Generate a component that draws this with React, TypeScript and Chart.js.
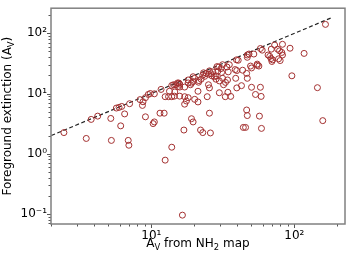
import React, { useEffect, useRef } from 'react';
import { Chart, registerables } from 'chart.js';

Chart.register(...registerables);

// A_V from NH2 map (x) and foreground extinction (y)
const nh2Av: number[] = [
  2.45, 3.51, 3.80, 4.22, 5.21, 5.26, 5.70, 5.95, 6.21, 6.11, 6.51, 6.90, 6.97, 7.05, 8.34, 8.67, 8.75, 9.10, 9.10, 9.53,
  9.84, 10.5, 10.3, 10.5, 11.5, 12.3, 11.7, 12.5, 13.9, 12.5, 13.2, 13.9, 13.4, 14.6, 13.9, 14.3, 14.8, 15.3, 15.6, 15.8,
  15.4, 15.8, 14.5, 15.8, 17.1, 18.1, 17.6, 17.1, 16.9, 16.5, 17.1, 18.1, 18.1, 18.8, 19.1, 19.6, 20.1, 19.6, 21.2, 20.1,
  21.2, 19.1, 19.6, 21.5, 22.3, 21.4, 22.9, 23.2, 24.2, 23.6, 25.1, 25.5, 26.2, 26.9, 25.1, 25.5, 24.6, 25.5, 22.1, 22.9,
  25.9,
  26.5, 27.6, 28.3, 28.8, 29.6, 30.7, 31.5, 29.2, 31.0, 28.3, 29.9, 31.5, 32.0, 33.0, 34.1, 34.5, 35.1, 33.8, 29.9, 32.9,
  35.9, 34.3, 39.4, 40.5, 38.6, 39.6, 43.5, 46.4, 46.9, 38.9, 42.7, 39.6, 46.9, 48.2, 46.9, 52.1, 49.4, 50.2, 55.0, 56.5,
  55.0, 57.9, 59.6, 50.2, 57.9, 53.5, 58.6, 46.4, 46.9, 57.0, 44.0, 45.6, 58.9, 65.5, 67.3, 68.7, 70.5, 69.7, 69.0, 72.8,
  76.4, 78.8, 81.7, 82.6, 77.6, 79.6, 82.6, 93.3, 117, 165, 96.1, 145, 158,
];
const foregroundAv: number[] = [
  2.24, 1.79, 3.71, 4.21, 3.85, 1.66, 5.73, 5.88, 6.10, 2.90, 4.58, 1.66, 1.38, 6.77, 7.91, 6.34, 7.29, 4.10, 8.53, 9.64,
  10.0, 9.89, 3.16, 3.37, 4.71, 4.71, 11.7, 0.780, 1.28, 8.85, 8.85, 8.85, 10.9, 10.6, 13.6, 14.0, 14.0, 15.0, 14.9, 14.3,
  13.1, 12.8, 9.04, 9.04, 8.85, 8.53, 7.51, 6.65, 2.47, 0.095, 12.8, 16.8, 15.0, 14.0, 14.9, 19.0, 17.9, 15.8, 10.9, 8.0,
  7.24, 3.81, 3.37, 16.4, 17.3, 15.4, 20.2, 22.1, 21.6, 19.3, 21.0, 23.8, 21.3, 22.9, 14.0, 12.4, 8.85, 4.71, 2.47, 2.24,
  2.21,
  19.7, 19.0, 19.7, 28.0, 27.6, 26.0, 30.1, 23.5, 22.4, 17.3, 16.2, 17.9, 14.0, 15.3, 16.8, 22.9, 30.1, 27.6, 10.3, 8.85,
  8.95, 10.5, 36.3, 35.7, 25.0, 24.1, 24.4, 21.6, 17.9, 17.9, 13.5, 12.4, 43.7, 45.3, 40.0, 45.3, 28.6, 26.6, 29.4, 28.6,
  30.8, 56.0, 52.6, 12.7, 12.7, 9.64, 8.95, 5.32, 4.30, 4.21, 2.73, 2.73, 2.63, 43.7, 41.5, 38.1, 36.3, 34.1, 54.6, 64.0,
  54.6, 51.3, 48.1, 43.7, 37.7, 35.3, 65.8, 56.6, 46.4, 141, 19.7, 12.5, 3.54,
];

// one-to-one reference line
const oneToOne: number[] = [2, 180];

// axis ticks
const xTickValues: number[] = [2, 3, 4, 5, 6, 7, 8, 9, 10, 20, 30, 40, 50, 60, 70, 80, 90, 100, 200];
const yTickValues: number[] = [0.07, 0.08, 0.09, 0.1, 0.2, 0.3, 0.4, 0.5, 0.6, 0.7, 0.8, 0.9, 1, 2, 3, 4, 5, 6, 7, 8, 9,
  10, 20, 30, 40, 50, 60, 70, 80, 90, 100, 200];
const majorTicks: number[] = [0.1, 1, 10, 100];
const majorLabels: string[] = ['10⁻¹', '10⁰', '10¹', '10²'];

const xRange: number[] = [1.99, 226];
const yRange: number[] = [0.0677, 262];

const FONT = '"DejaVu Sans", sans-serif';

function labelFor(v: number): string {
  const i = majorTicks.findIndex((m) => Math.abs(m - v) / m < 1e-6);
  return i >= 0 ? majorLabels[i] : '';
}

type Part = { t: string; sub?: boolean };

function drawRich(ctx: CanvasRenderingContext2D, parts: Part[], cx: number, cy: number, size: number) {
  const subSize = size * 0.7;
  let total = 0;
  const widths = parts.map((p) => {
    ctx.font = `${p.sub ? subSize : size}px ${FONT}`;
    const w = ctx.measureText(p.t).width;
    total += w;
    return w;
  });
  let x = cx - total / 2;
  ctx.textBaseline = 'alphabetic';
  ctx.textAlign = 'left';
  parts.forEach((p, i) => {
    ctx.font = `${p.sub ? subSize : size}px ${FONT}`;
    ctx.fillText(p.t, x, cy + (p.sub ? size * 0.22 : 0));
    x += widths[i];
  });
}

const framePlugin = {
  id: 'frameAndTitles',
  afterDraw(chart: any) {
    const { ctx, chartArea } = chart;
    const { left, right, top, bottom } = chartArea;
    ctx.save();
    // ticks
    ctx.strokeStyle = '#555';
    ctx.lineWidth = 1;
    const xs = chart.scales.x;
    xTickValues.forEach((v) => {
      const px = Math.round(xs.getPixelForValue(v)) + 0.5;
      const len = majorTicks.includes(v) ? 4 : 2.5;
      ctx.beginPath();
      ctx.moveTo(px, bottom);
      ctx.lineTo(px, bottom + len);
      ctx.stroke();
    });
    const ys = chart.scales.y;
    yTickValues.forEach((v) => {
      const py = Math.round(ys.getPixelForValue(v)) + 0.5;
      const len = majorTicks.includes(v) ? 4 : 2.5;
      ctx.beginPath();
      ctx.moveTo(left, py);
      ctx.lineTo(left - len, py);
      ctx.stroke();
    });
    // frame
    ctx.strokeStyle = '#808080';
    ctx.lineWidth = 1.5;
    ctx.strokeRect(left, top, right - left, bottom - top);
    // titles
    ctx.fillStyle = '#000';
    drawRich(ctx, [{ t: 'A' }, { t: 'V', sub: true }, { t: ' from NH' }, { t: '2', sub: true }, { t: ' map' }],
      (left + right) / 2, 247, 12);
    ctx.save();
    ctx.translate(11, (top + bottom) / 2);
    ctx.rotate(-Math.PI / 2);
    drawRich(ctx, [{ t: 'Foreground extinction (A' }, { t: 'V', sub: true }, { t: ')' }], 0, 0, 12);
    ctx.restore();
    ctx.restore();
  },
};

export default function App() {
  const ref = useRef<HTMLCanvasElement | null>(null);

  useEffect(() => {
    if (!ref.current) return;
    const points = nh2Av.map((x, i) => ({ x, y: foregroundAv[i] }));
    const line = oneToOne.map((v) => ({ x: v, y: v }));
    const chart = new Chart(ref.current, {
      type: 'scatter',
      data: {
        datasets: [
          {
            type: 'scatter',
            data: points,
            pointStyle: 'circle',
            pointRadius: 3,
            pointBorderWidth: 1,
            borderColor: '#a33030',
            backgroundColor: 'rgba(0,0,0,0)',
            pointBackgroundColor: 'rgba(0,0,0,0)',
            pointBorderColor: '#a33030',
          } as any,
          {
            type: 'line',
            data: line,
            borderColor: '#222',
            borderWidth: 1.2,
            borderDash: [4, 2.5],
            pointRadius: 0,
            fill: false,
            showLine: true,
          } as any,
        ],
      },
      options: {
        responsive: false,
        animation: false,
        devicePixelRatio: 1,
        layout: { padding: { top: 1, right: 1, left: 0, bottom: 0 } },
        plugins: { legend: { display: false }, tooltip: { enabled: false } },
        scales: {
          x: {
            type: 'logarithmic',
            position: 'bottom',
            min: xRange[0],
            max: xRange[1],
            afterBuildTicks: (s: any) => {
              s.ticks = xTickValues.map((v) => ({ value: v, major: majorTicks.includes(v) }));
            },
            afterFit: (s: any) => {
              s.height = 35;
            },
            border: { display: false },
            grid: { drawOnChartArea: false, drawTicks: true, tickLength: 3, color: 'rgba(0,0,0,0)' },
            ticks: {
              autoSkip: false,
              maxRotation: 0,
              padding: 2,
              color: '#000',
              font: { family: FONT, size: 12 },
              callback: (v: any) => labelFor(Number(v)),
            },
          },
          y: {
            type: 'logarithmic',
            position: 'left',
            min: yRange[0],
            max: yRange[1],
            afterBuildTicks: (s: any) => {
              s.ticks = yTickValues.map((v) => ({ value: v, major: majorTicks.includes(v) }));
            },
            afterFit: (s: any) => {
              s.width = 51;
            },
            border: { display: false },
            grid: { drawOnChartArea: false, drawTicks: true, tickLength: 3, color: 'rgba(0,0,0,0)' },
            ticks: {
              autoSkip: false,
              padding: 1,
              color: '#000',
              font: { family: FONT, size: 12 },
              callback: (v: any) => labelFor(Number(v)),
            },
          },
        },
      } as any,
      plugins: [framePlugin],
    });
    return () => chart.destroy();
  }, []);

  return (
    <div style={{ position: 'fixed', left: 0, top: 0, width: 350, height: 259, background: '#fff' }}>
      <canvas ref={ref} width={350} height={259} style={{ width: 350, height: 259, display: 'block' }} />
    </div>
  );
}
